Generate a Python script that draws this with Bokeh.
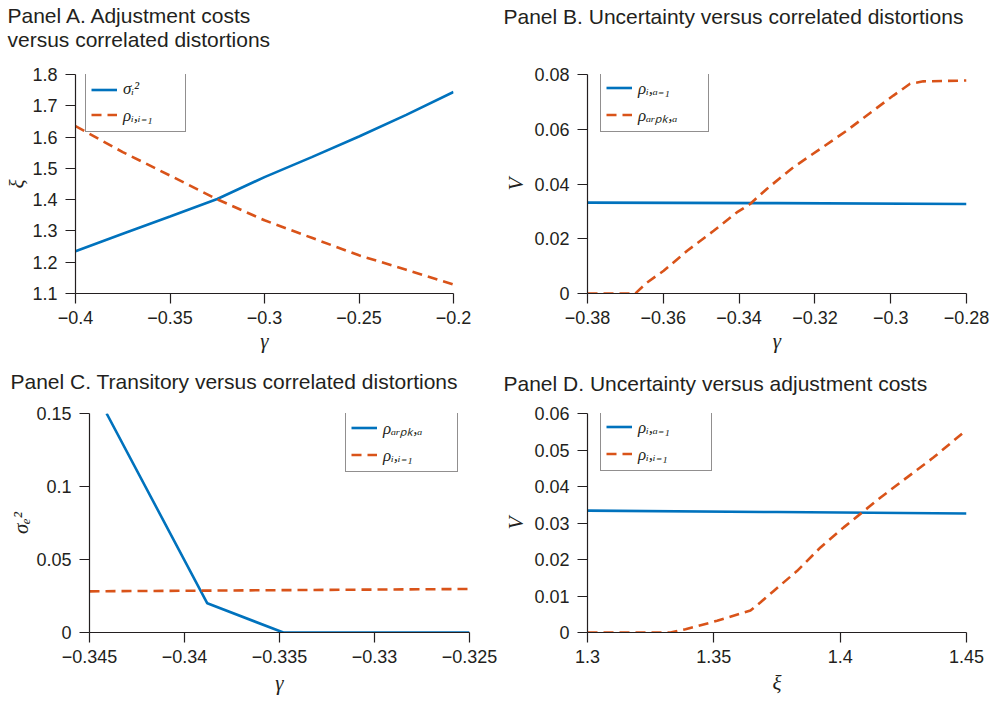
from bokeh.plotting import figure
from bokeh.models import Range1d, FixedTicker, Legend, LegendItem, Title
from bokeh.layouts import column, row
from bokeh.embed import file_html
from bokeh.resources import INLINE

BLUE = "#0072BD"
ORANGE = "#D95319"
INK = "#231F20"

# ---------------- data ----------------
# Panel A
a_gamma = [-0.4, -0.375, -0.35, -0.325, -0.3, -0.275, -0.25, -0.225, -0.2]
a_sigma_i2 = [1.235, 1.291, 1.346, 1.402, 1.472, 1.536, 1.602, 1.671, 1.744]
a_rho_ii = [1.635, 1.552, 1.477, 1.401, 1.334, 1.278, 1.222, 1.176, 1.129]
a_xticks = [-0.4, -0.35, -0.3, -0.25, -0.2]
a_xlabels = ["\u22120.4", "\u22120.35", "\u22120.3", "\u22120.25", "\u22120.2"]
a_yticks = [1.1, 1.2, 1.3, 1.4, 1.5, 1.6, 1.7, 1.8]
a_ylabels = ["1.1", "1.2", "1.3", "1.4", "1.5", "1.6", "1.7", "1.8"]

# Panel B
b_gamma_ia = [-0.38, -0.33, -0.28]
b_rho_ia = [0.0332, 0.0330, 0.0327]
b_gamma_arpk = [-0.38, -0.3674, -0.3643, -0.3599, -0.3537, -0.3467, -0.3406, -0.3371, -0.3327,
                -0.3257, -0.3186, -0.3116, -0.3046, -0.2993, -0.2949, -0.2914, -0.28]
b_rho_arpk = [0.0, 0.0, 0.004, 0.0083, 0.0156, 0.0229, 0.0296, 0.0327, 0.0382,
              0.0461, 0.0528, 0.0595, 0.0668, 0.0723, 0.0766, 0.0775, 0.0778]
b_xticks = [-0.38, -0.36, -0.34, -0.32, -0.3, -0.28]
b_xlabels = ["\u22120.38", "\u22120.36", "\u22120.34", "\u22120.32", "\u22120.3", "\u22120.28"]
b_yticks = [0.0, 0.02, 0.04, 0.06, 0.08]
b_ylabels = ["0", "0.02", "0.04", "0.06", "0.08"]

# Panel C
c_gamma_arpk = [-0.3441, -0.3388, -0.3348, -0.33, -0.325]
c_rho_arpk = [0.15, 0.02, 0.0, 0.0, 0.0]
c_gamma_ii = [-0.345, -0.335, -0.325]
c_rho_ii = [0.0282, 0.0290, 0.0298]
c_xticks = [-0.345, -0.34, -0.335, -0.33, -0.325]
c_xlabels = ["\u22120.345", "\u22120.34", "\u22120.335", "\u22120.33", "\u22120.325"]
c_yticks = [0.0, 0.05, 0.1, 0.15]
c_ylabels = ["0", "0.05", "0.1", "0.15"]

# Panel D
d_xi_ia = [1.3, 1.375, 1.45]
d_rho_ia = [0.0334, 0.0330, 0.0326]
d_xi_ii = [1.3, 1.3328, 1.3388, 1.3513, 1.3645, 1.3685, 1.3737, 1.383, 1.3922, 1.4014,
           1.408, 1.416, 1.4265, 1.437, 1.45]
d_rho_ii = [0.0, 0.0, 0.0009, 0.0032, 0.006, 0.0083, 0.0114, 0.0169, 0.0233, 0.0288,
            0.0325, 0.037, 0.0425, 0.048, 0.0555]
d_xticks = [1.3, 1.35, 1.4, 1.45]
d_xlabels = ["1.3", "1.35", "1.4", "1.45"]
d_yticks = [0.0, 0.01, 0.02, 0.03, 0.04, 0.05, 0.06]
d_ylabels = ["0", "0.01", "0.02", "0.03", "0.04", "0.05", "0.06"]


def make_panel(title, title_offset, title_standoff, spacer, height, xr, yr,
               xticks, xlabels, yticks, ylabels, xlabel, ylabel, series,
               legend_loc, label_width, borders, xlabel_standoff, ylabel_standoff):
    left, right, bottom = borders
    p = figure(width=498, height=height, x_range=Range1d(*xr), y_range=Range1d(*yr),
               output_backend="svg", toolbar_location=None, title=None,
               min_border_left=left, min_border_right=right,
               min_border_top=0, min_border_bottom=bottom)
    p.outline_line_color = None
    p.xgrid.grid_line_color = None
    p.ygrid.grid_line_color = None
    p.background_fill_color = "white"
    p.border_fill_color = "white"

    for ax, ticks, labels, lab in ((p.xaxis[0], xticks, xlabels, xlabel),
                                   (p.yaxis[0], yticks, ylabels, ylabel)):
        ax.ticker = FixedTicker(ticks=ticks)
        ax.major_label_overrides = {t: l for t, l in zip(ticks, labels)}
        ax.minor_tick_line_color = None
        ax.major_tick_in = 0
        ax.major_tick_out = 10
        ax.major_tick_line_color = INK
        ax.major_tick_line_width = 1.2
        ax.axis_line_color = INK
        ax.axis_line_width = 1.2
        ax.major_label_text_font = "Liberation Sans"
        ax.major_label_text_font_size = "18px"
        ax.major_label_text_color = INK
        ax.axis_label = lab
        ax.axis_label_text_font = "Liberation Serif"
        ax.axis_label_text_font_style = "italic"
        ax.axis_label_text_font_size = "21px"
        ax.axis_label_text_color = INK
    p.xaxis[0].major_label_standoff = 7
    p.yaxis[0].major_label_standoff = 8
    p.xaxis[0].axis_label_standoff = xlabel_standoff
    p.yaxis[0].axis_label_standoff = ylabel_standoff

    items = []
    for xs, ys, color, dash, lab in series:
        r = p.line(xs, ys, line_color=color, line_width=2.6, line_dash=dash)
        items.append(LegendItem(label=lab, renderers=[r]))

    leg = Legend(items=items, location=legend_loc, margin=0,
                 padding=5, spacing=4, glyph_width=26, glyph_height=19,
                 label_height=19, label_width=label_width, label_standoff=6,
                 label_text_font="Liberation Serif", label_text_font_style="italic",
                 label_text_font_size="17px", label_text_color=INK,
                 border_line_color=INK, border_line_width=1.5,
                 background_fill_color="white", background_fill_alpha=1.0)
    p.add_layout(leg)

    # blank spacer panel between the frame and the title
    p.add_layout(Title(text=" ", text_font_size="1px", standoff=spacer), "above")
    p.add_layout(Title(text=title, text_font="Liberation Sans", text_font_size="21px",
                       text_font_style="normal", text_color=INK, align="left",
                       offset=title_offset, standoff=title_standoff,
                       text_line_height=1.08), "above")
    return p


ROW1_H = 357
ROW2_H = 342

pA = make_panel("Panel A. Adjustment costs\nversus correlated distortions", -68, 2, 19, ROW1_H,
                (-0.4, -0.2), (1.1, 1.8), a_xticks, a_xlabels, a_yticks, a_ylabels,
                "\u03b3", "\u03be",
                [(a_gamma, a_sigma_i2, BLUE, "solid", "\u03c3\u1d62\u00b2"),
                 (a_gamma, a_rho_ii, ORANGE, "10 6", "\u03c1\u1d62,\u1d62\u208b\u2081")],
                (10, 161), 57, (75, 45, 64), 2, 0)

pB = make_panel("Panel B. Uncertainty versus correlated distortions", -84, 2, 43, ROW1_H,
                (-0.38, -0.28), (0.0, 0.08), b_xticks, b_xlabels, b_yticks, b_ylabels,
                "\u03b3", "V",
                [(b_gamma_ia, b_rho_ia, BLUE, "solid", "\u03c1\u1d62,\u2090\u208b\u2081"),
                 (b_gamma_arpk, b_rho_arpk, ORANGE, "10 6", "\u03c1\u2090\u1d63\u209a\u2096,\u2090")],
                (13, 161), 65, (89, 30, 64), 2, 3)

pC = make_panel("Panel C. Transitory versus correlated distortions", -79, 20, 8, ROW2_H,
                (-0.345, -0.325), (0.0, 0.15), c_xticks, c_xlabels, c_yticks, c_ylabels,
                "\u03b3", "\u03c3\u2091\u00b2",
                [(c_gamma_arpk, c_rho_arpk, BLUE, "solid", "\u03c1\u2090\u1d63\u209a\u2096,\u2090"),
                 (c_gamma_ii, c_rho_ii, ORANGE, "10 6", "\u03c1\u1d62,\u1d62\u208b\u2081")],
                (256, 160), 69, (89, 29, 67), 5, 0)

pD = make_panel("Panel D. Uncertainty versus adjustment costs", -84, 24, 4, ROW2_H,
                (1.3, 1.45), (0.0, 0.06), d_xticks, d_xlabels, d_yticks, d_ylabels,
                "\u03be", "V",
                [(d_xi_ia, d_rho_ia, BLUE, "solid", "\u03c1\u1d62,\u2090\u208b\u2081"),
                 (d_xi_ii, d_rho_ii, ORANGE, "10 6", "\u03c1\u1d62,\u1d62\u208b\u2081")],
                (13, 161), 68, (89, 30, 67), 5, 3)

layout = column(row(pA, pB), row(pC, pD))
open("out.html", "w").write(file_html(layout, INLINE))
